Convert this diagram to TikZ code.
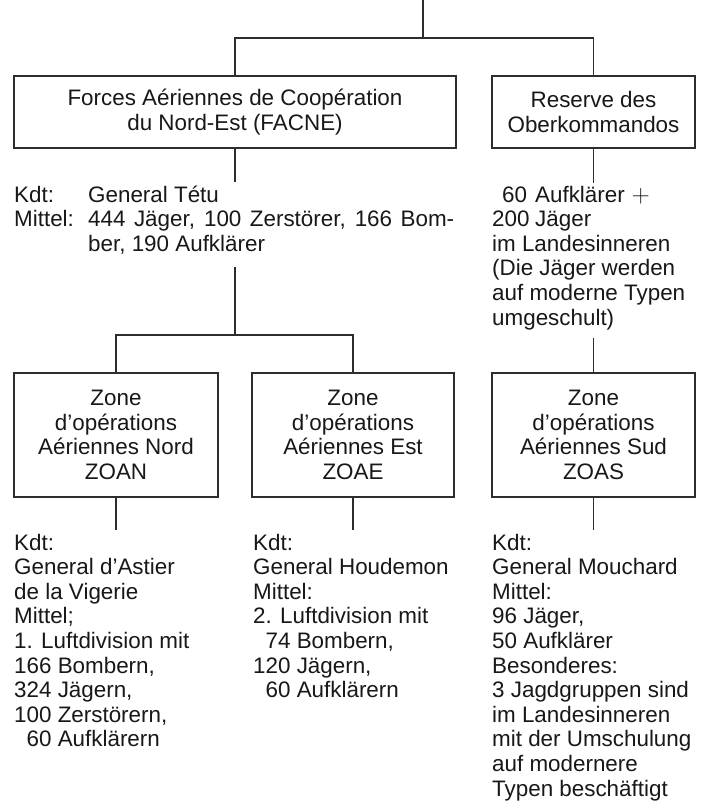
\documentclass[tikz,border=0pt]{standalone}
\usepackage{fontspec}
\setmainfont{Liberation Sans}
\usetikzlibrary{calc}
\definecolor{ink}{RGB}{24,24,24}
\definecolor{rulecol}{RGB}{45,45,45}
% a block of lines with a fixed line pitch; its baseline is that of the first line
\newcommand\Zeilen[1]{\vtop{\baselineskip=24.6pt\lineskiplimit=-1000pt\lineskip=0pt\relax #1}}
\newcommand\zl[1]{\hbox{#1}}
\newcommand\basefont{\fontsize{22.4}{24.6}\selectfont}
\newcommand\boxfont{\fontsize{22.4}{24.6}\selectfont\lineskiplimit=-1000pt\relax}
\newcommand\bigplus{{\fontsize{28}{28}\selectfont$+$}}
\begin{document}
\begin{tikzpicture}[x=1pt,y=-1pt,
  every node/.style={text=ink, font=\basefont},
  orgbox/.style={draw=rulecol, line width=1.4pt, inner sep=0pt, align=center, font=\boxfont},
  info/.style={inner sep=0pt, anchor=base west},
  link/.style={draw=rulecol, line width=1.4pt}]
\fill[white] (0,0) rectangle (705,809);
\useasboundingbox (0,0) rectangle (705,809);

% upper level
\node[orgbox, minimum width=442, minimum height=72] (facne) at (235,112)
  {Forces Aériennes de Coopération\\du Nord-Est (FACNE)};
\node[orgbox, minimum width=203, minimum height=72] (reserve) at (593.5,112)
  {Reserve des\\Oberkommandos};

% zones
\node[orgbox, minimum width=204, minimum height=124] (zoan) at (116,435)
  {Zone\\d’opérations\\Aériennes Nord\\ZOAN};
\node[orgbox, minimum width=202, minimum height=124] (zoae) at (353,435)
  {Zone\\d’opérations\\Aériennes Est\\ZOAE};
\node[orgbox, minimum width=203, minimum height=124] (zoas) at (593.5,435)
  {Zone\\d’opérations\\Aériennes Sud\\ZOAS};

% notes below the boxes
\node[info] (facneinfo) at (14,202) {\Zeilen{%
  \zl{\makebox[74pt][l]{Kdt:}General Tétu}%
  \zl{\makebox[74pt][l]{Mittel:}\makebox[366pt][s]{444 Jäger, 100 Zerstörer, 166 Bom-}}%
  \zl{\hskip74pt ber, 190 Aufklärer}}};
\node[info] (reserveinfo) at (492,202) {\Zeilen{%
  \zl{\makebox[43pt][l]{\hskip10pt 60}Aufklärer\hskip7pt\bigplus}%
  \zl{\makebox[43pt][l]{200}Jäger}%
  \zl{im Landesinneren}%
  \zl{(Die Jäger werden}%
  \zl{auf moderne Typen}%
  \zl{umgeschult)}}};
\node[info] (zoaninfo) at (14,550) {\Zeilen{%
  \zl{Kdt:}%
  \zl{General d’Astier}%
  \zl{de la Vigerie}%
  \zl{Mittel;}%
  \zl{1. Luftdivision mit}%
  \zl{166 Bombern,}%
  \zl{324 Jägern,}%
  \zl{100 Zerstörern,}%
  \zl{\hphantom{0}60 Aufklärern}}};
\node[info] (zoaeinfo) at (253,550) {\Zeilen{%
  \zl{Kdt:}%
  \zl{General Houdemon}%
  \zl{Mittel:}%
  \zl{2. Luftdivision mit}%
  \zl{\hphantom{0}74 Bombern,}%
  \zl{120 Jägern,}%
  \zl{\hphantom{0}60 Aufklärern}}};
\node[info] (zoasinfo) at (492,550) {\Zeilen{%
  \zl{Kdt:}%
  \zl{General Mouchard}%
  \zl{Mittel:}%
  \zl{96 Jäger,}%
  \zl{50 Aufklärer}%
  \zl{Besonderes:}%
  \zl{3 Jagdgruppen sind}%
  \zl{im Landesinneren}%
  \zl{mit der Umschulung}%
  \zl{auf modernere}%
  \zl{Typen beschäftigt}}};

% connecting lines
\coordinate (trunk) at (423,0);
\coordinate (bar) at (423,38);
\draw[link] (trunk) -- (bar);
\draw[link] (facne.north) |- (bar) -| (reserve.north);

\coordinate (facnetail) at (235,182);
\draw[link] (facne.south) -- (facnetail);
\coordinate (facnehead) at (235,267);
\coordinate (split) at (235,335);
\draw[link] (facnehead) -- (split);
\draw[link] (zoan.north) |- (split) -| (zoae.north);

\coordinate (restail) at (593.5,183);
\draw[link] (reserve.south) -- (restail);
\coordinate (reshead) at (593.5,338);
\draw[link] (reshead) -- (zoas.north);

\coordinate (zoantail) at (116,530);
\coordinate (zoaetail) at (353,530);
\coordinate (zoastail) at (593.5,530);
\draw[link] (zoan.south) -- (zoantail);
\draw[link] (zoae.south) -- (zoaetail);
\draw[link] (zoas.south) -- (zoastail);
\end{tikzpicture}
\end{document}
